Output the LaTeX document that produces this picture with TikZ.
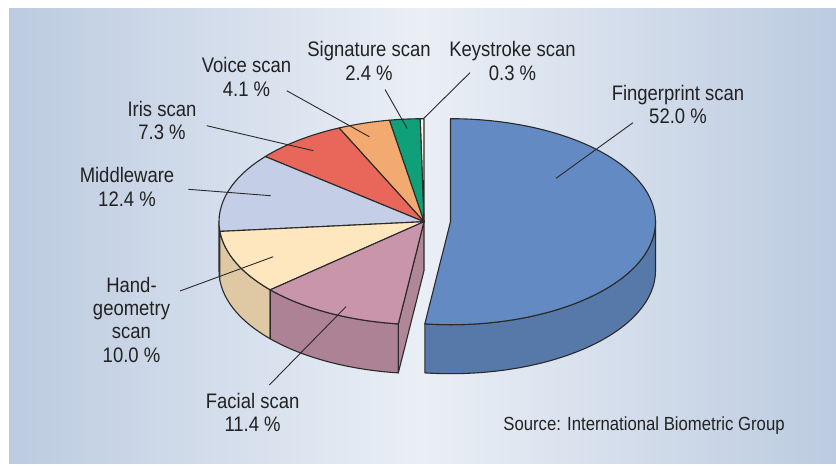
\documentclass[tikz,border=0pt]{standalone}
\usepackage{fontspec}
\setmainfont{Liberation Sans}[FakeStretch=0.88]
\usetikzlibrary{calc}
\definecolor{bgEdge}{HTML}{BCCBE0}
\definecolor{bgMid}{HTML}{EAEFF6}
\definecolor{txt}{HTML}{222222}
\definecolor{olc}{HTML}{2A2A2A}
\definecolor{fpTop}{HTML}{648AC4}
\definecolor{fpSide}{HTML}{5779A9}
\definecolor{faTop}{HTML}{C995AB}
\definecolor{faSide}{HTML}{AC8294}
\definecolor{faCut}{HTML}{B08797}
\definecolor{hdTop}{HTML}{FEE7BF}
\definecolor{hdSide}{HTML}{DFC9A5}
\definecolor{mwTop}{HTML}{C4CEE6}
\definecolor{mwSide}{HTML}{A8B2CB}
\definecolor{irTop}{HTML}{E8675A}
\definecolor{vcTop}{HTML}{F2AA71}
\definecolor{sgTop}{HTML}{0FA07A}
\definecolor{ksTop}{HTML}{F7F7F2}
\newcommand\pieRX{205}
\newcommand\pieRY{103}
\newcommand\pieHH{49}
\newcommand\pietop[3]{\filldraw[slice,fill=#3] (0,0) -- (#1:\pieRX pt and \pieRY pt) arc[start angle=#1, end angle=#2, x radius=\pieRX pt, y radius=\pieRY pt] -- cycle;}
\newcommand\pieside[3]{\filldraw[slice,fill=#3] (#1:\pieRX pt and \pieRY pt) arc[start angle=#1, end angle=#2, x radius=\pieRX pt, y radius=\pieRY pt] -- ++(0,-\pieHH pt) arc[start angle=#2, end angle=#1, x radius=\pieRX pt, y radius=\pieRY pt] -- cycle;}
\tikzset{
  slice/.style={draw=olc, line width=1.1pt, line join=round},
  lbl/.style={anchor=north, inner sep=0pt, align=center, text=txt, font=\fontsize{21}{23.4}\selectfont},
  leader/.style={draw=olc, line width=0.9pt}
}
\begin{document}
\begin{tikzpicture}[x=1pt,y=1pt]
\useasboundingbox (0,0) rectangle (836,-466);
\fill[white] (0,0) rectangle (836,-466);
\shade[left color=bgEdge, right color=bgEdge, middle color=bgMid] (9,-8) rectangle (836,-463);

% left part of the pie
\begin{scope}[shift={(424,-221.7)}]
  \pieside{180}{185.4}{mwSide}
  \pieside{185.4}{221.4}{hdSide}
  \pieside{221.4}{262.8}{faSide}
  \filldraw[slice,fill=faCut] (0,0) -- (262.8:\pieRX pt and \pieRY pt) -- ++(0,-\pieHH pt) -- (0,-\pieHH pt) -- cycle;
  \pietop{90}{91.08}{ksTop}
  \pietop{91.08}{99.72}{sgTop}
  \pietop{99.72}{114.48}{vcTop}
  \pietop{114.48}{140.76}{irTop}
  \pietop{140.76}{185.4}{mwTop}
  \pietop{185.4}{221.4}{hdTop}
  \pietop{221.4}{262.8}{faTop}
\end{scope}

% exploded fingerprint slice
\begin{scope}[shift={(450.5,-221.7)}]
  \pieside{262.8}{360}{fpSide}
  \pietop{-97.2}{90}{fpTop}
\end{scope}

% labels
\node[lbl] (fp) at (678,-84.7) {Fingerprint scan\\52.0 \%};
\node[lbl] (ks) at (512.5,-41.2) {Keystroke scan\\0.3 \%};
\node[lbl] (sg) at (369,-41.2) {Signature scan\\2.4 \%};
\node[lbl] (vc) at (246.5,-57.4) {Voice scan\\4.1 \%};
\node[lbl] (ir) at (162,-100.7) {Iris scan\\7.3 \%};
\node[lbl] (mw) at (127,-167.4) {Middleware\\12.4 \%};
\node[lbl] (hd) at (131.5,-276.7) {Hand-\\geometry\\scan\\10.0 \%};
\node[lbl] (fc) at (252.6,-392.7) {Facial scan\\11.4 \%};
\node[anchor=base, inner sep=0pt, text=txt, font=\fontsize{19}{22}\selectfont] (src) at (644,-430) {Source: International Biometric Group};

% leader line end points
\coordinate (fp-o) at (633,-122.7);   \coordinate (fp-i) at (556,-178.3);
\coordinate (ks-o) at (470,-72.7);    \coordinate (ks-i) at (423.6,-118.5);
\coordinate (sg-o) at (385,-89.5);    \coordinate (sg-i) at (407.2,-128.5);
\coordinate (vc-o) at (286.7,-90.7);  \coordinate (vc-i) at (369.3,-136.7);
\coordinate (ir-o) at (206.7,-125.7); \coordinate (ir-i) at (313.3,-150.7);
\coordinate (mw-o) at (188.3,-189.3); \coordinate (mw-i) at (270.7,-195.7);
\coordinate (hd-o) at (180,-291);     \coordinate (hd-i) at (273.3,-256.7);
\coordinate (fc-o) at (269.3,-385);   \coordinate (fc-i) at (346,-306.7);

\foreach \k in {fp,ks,sg,vc,ir,mw,hd,fc}{
  \draw[leader] (\k-o) -- (\k-i);
}
\end{tikzpicture}
\end{document}
